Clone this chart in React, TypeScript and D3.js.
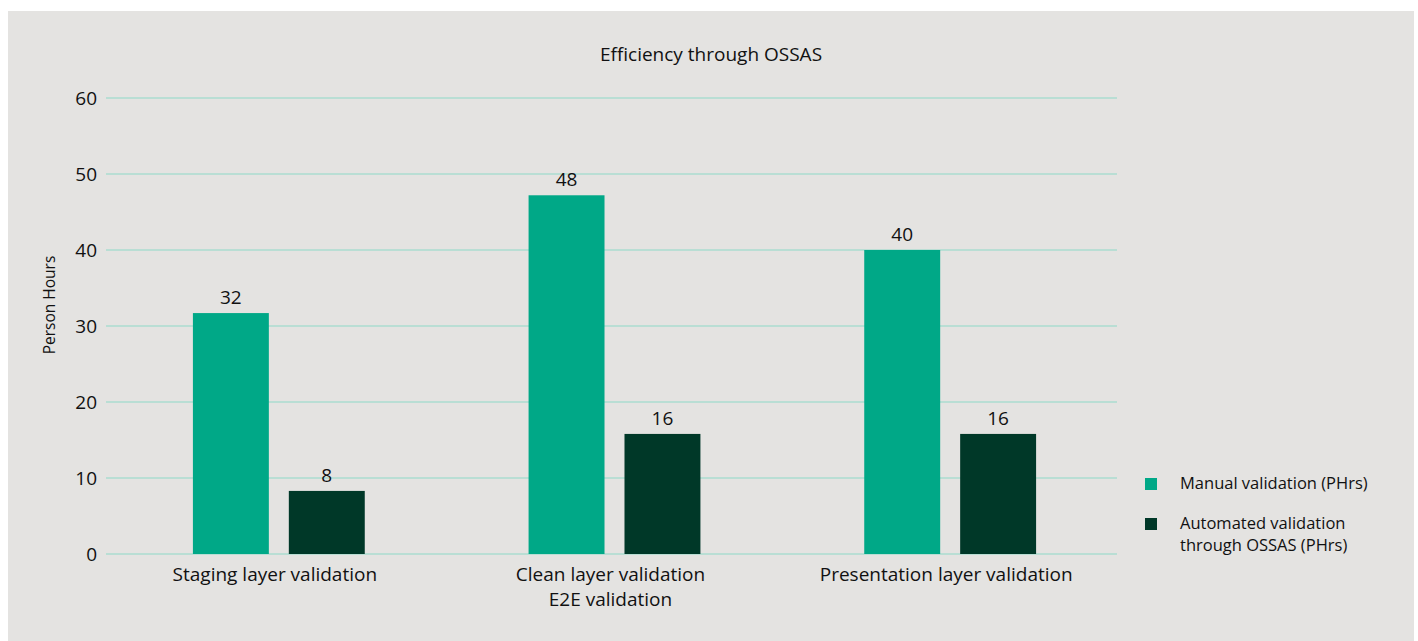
import * as d3 from 'd3';

// Categories and series
const categories = ['staging', 'clean', 'presentation'];
const categoryLabels: string[][] = [
  ['Staging layer validation'],
  ['Clean layer validation', 'E2E validation'],
  ['Presentation layer validation'],
];
const seriesNames = ['Manual validation (PHrs)', 'Automated validation through OSSAS (PHrs)'];
const legendLines: string[][] = [
  ['Manual validation (PHrs)'],
  ['Automated validation', 'through OSSAS (PHrs)'],
];
// bar heights as drawn, and the labels printed above them
const manualValues = [31.7, 47.2, 40.0];
const automatedValues = [8.3, 15.8, 15.8];
const manualLabels = ['32', '48', '40'];
const automatedLabels = ['8', '16', '16'];
const yTicks = [0, 10, 20, 30, 40, 50, 60];

const colors = ['#00a887', '#003828'];
const font = '"Open Sans", "Noto Sans", sans-serif';
const textColor = '#111111';

export default function App() {
  const width = 1418;
  const height = 641;

  const x0 = d3.scaleBand<string>().domain(categories).range([111, 1118]);
  const x1 = d3
    .scaleBand<string>()
    .domain(seriesNames)
    .range([0, x0.bandwidth()])
    .paddingInner(20 / 96)
    .paddingOuter(0.854);
  const y = d3.scaleLinear().domain([0, 60]).range([554, 98]);

  const series = [
    { name: seriesNames[0], values: manualValues, labels: manualLabels, color: colors[0] },
    { name: seriesNames[1], values: automatedValues, labels: automatedLabels, color: colors[1] },
  ];

  return (
    <svg
      width={width}
      height={height}
      style={{ position: 'absolute', left: 0, top: 0, display: 'block' }}
    >
      <rect x={0} y={0} width={width} height={height} fill="#ffffff" />
      <rect x={8} y={11} width={1406} height={height - 11} fill="#e4e3e1" />

      {/* title */}
      <text x={711} y={61} textAnchor="middle" fontFamily={font} fontSize={19} fill={textColor}>
        Efficiency through OSSAS
      </text>

      {/* gridlines + y ticks */}
      {yTicks.map((t) => (
        <g key={t}>
          <line x1={106} x2={1117} y1={y(t)} y2={y(t)} stroke="#abdccf" strokeWidth={1.4} />
          <text
            x={97}
            y={y(t)}
            dy="0.35em"
            textAnchor="end"
            fontFamily={font}
            fontSize={19}
            fill={textColor}
          >
            {t}
          </text>
        </g>
      ))}

      {/* y axis title */}
      <text
        transform={`translate(55,305) rotate(-90)`}
        textAnchor="middle"
        fontFamily={font}
        fontSize={15.5}
        fill={textColor}
      >
        Person Hours
      </text>

      {/* bars */}
      {series.map((s) =>
        categories.map((c, i) => {
          const bx = (x0(c) || 0) + (x1(s.name) || 0);
          const bw = x1.bandwidth();
          return (
            <g key={s.name + c}>
              <rect x={bx} y={y(s.values[i])} width={bw} height={y(0) - y(s.values[i])} fill={s.color} />
              <text
                x={bx + bw / 2}
                y={y(s.values[i]) - 9}
                textAnchor="middle"
                fontFamily={font}
                fontSize={19}
                fill={textColor}
              >
                {s.labels[i]}
              </text>
            </g>
          );
        })
      )}

      {/* category labels */}
      {categories.map((c, i) => (
        <text
          key={c}
          x={(x0(c) || 0) + x0.bandwidth() / 2}
          y={581}
          textAnchor="middle"
          fontFamily={font}
          fontSize={19}
          fill={textColor}
        >
          {categoryLabels[i].map((line, j) => (
            <tspan key={j} x={(x0(c) || 0) + x0.bandwidth() / 2 - 4} dy={j === 0 ? 0 : 25}>
              {line}
            </tspan>
          ))}
        </text>
      ))}

      {/* legend */}
      {legendLines.map((lines, i) => (
        <g key={i} transform={`translate(1145,${478 + i * 40})`}>
          <rect x={0} y={0} width={12} height={12} fill={colors[i]} />
          <text x={35} y={11} fontFamily={font} fontSize={16.5} fill={textColor}>
            {lines.map((line, j) => (
              <tspan key={j} x={35} dy={j === 0 ? 0 : 22}>
                {line}
              </tspan>
            ))}
          </text>
        </g>
      ))}
    </svg>
  );
}
